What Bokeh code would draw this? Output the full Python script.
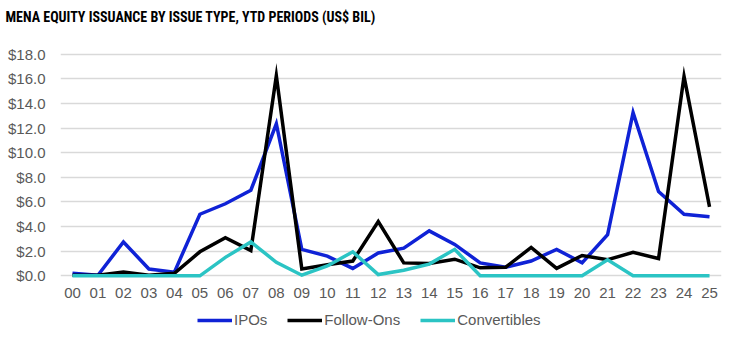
from bokeh.plotting import figure
from bokeh.layouts import column
from bokeh.models import Range1d, FixedTicker, Legend, LegendItem, NumeralTickFormatter
from bokeh.embed import file_html
from bokeh.resources import INLINE

title_text = "MENA EQUITY ISSUANCE BY ISSUE TYPE, YTD PERIODS (US$ BIL)"
years = ["00", "01", "02", "03", "04", "05", "06", "07", "08", "09", "10", "11", "12",
         "13", "14", "15", "16", "17", "18", "19", "20", "21", "22", "23", "24", "25"]
ipos = [0.2, 0.05, 2.75, 0.55, 0.3, 5.0, 5.85, 6.95, 12.35, 2.15, 1.6, 0.6, 1.85,
        2.25, 3.65, 2.55, 1.05, 0.7, 1.2, 2.15, 1.05, 3.35, 13.25, 6.85, 5.0, 4.8]
follow_ons = [0.05, 0.05, 0.3, 0.05, 0.2, 1.95, 3.1, 2.05, 16.25, 0.55, 0.9, 1.2, 4.4,
              1.05, 1.0, 1.35, 0.65, 0.7, 2.3, 0.6, 1.65, 1.3, 1.9, 1.4, 16.2, 5.6]
convertibles = [0.0, 0.0, 0.0, 0.0, 0.0, 0.0, 1.5, 2.75, 1.1, 0.05, 0.8, 1.95, 0.1,
                0.45, 0.95, 2.15, 0.0, 0.0, 0.0, 0.0, 0.0, 1.3, 0.0, 0.0, 0.0, 0.0]
y_ticks = [0, 2, 4, 6, 8, 10, 12, 14, 16, 18]
series_names = ["IPOs", "Follow-Ons", "Convertibles"]
series_colors = ["#0F22D6", "#000000", "#2BC4C4"]

xs = list(range(len(years)))


def bare(fig):
    fig.outline_line_color = None
    fig.background_fill_color = "white"
    fig.border_fill_color = "white"
    fig.xgrid.grid_line_color = None
    fig.ygrid.grid_line_color = None


def strip(h):
    return figure(width=745, height=h, output_backend="svg", toolbar_location=None,
                  x_axis_type=None, y_axis_type=None, x_range=Range1d(0, 1), y_range=Range1d(0, 1),
                  min_border=0, min_border_left=0, min_border_right=0,
                  min_border_top=0, min_border_bottom=0)


# ---- header strip carrying the title ----
header = strip(40)
bare(header)
header.title.text = title_text
header.title.text_font = "Roboto Condensed"
header.title.text_font_size = "14px"
header.title.text_font_style = "bold"
header.title.text_color = "#000000"
header.title.align = "left"
header.title.vertical_align = "top"
header.title.offset = -55
header.title.standoff = 17

# ---- main chart ----
p = figure(width=745, height=266, output_backend="svg", toolbar_location=None,
           x_range=Range1d(-0.47, 25.47), y_range=Range1d(-0.3, 18.3),
           min_border_left=60, min_border_right=24, min_border_top=10, min_border_bottom=27)
p.outline_line_color = None
p.background_fill_color = "white"
p.border_fill_color = "white"
p.xgrid.grid_line_color = None
p.ygrid.grid_line_color = "#D9D9D9"
p.ygrid.grid_line_width = 1.5

p.yaxis.ticker = FixedTicker(ticks=y_ticks)
p.yaxis.formatter = NumeralTickFormatter(format="$0.0")
p.xaxis.ticker = FixedTicker(ticks=xs)
p.xaxis.major_label_overrides = {i: y for i, y in enumerate(years)}

for ax in (p.xaxis[0], p.yaxis[0]):
    ax.axis_line_color = None
    ax.major_tick_line_color = None
    ax.minor_tick_line_color = None
    ax.major_tick_out = 0
    ax.major_tick_in = 0
    ax.major_label_text_font = "Liberation Sans"
    ax.major_label_text_font_size = "15px"
    ax.major_label_text_color = "#595959"
p.yaxis.major_label_standoff = 15
p.xaxis.major_label_standoff = 8

for vals, col in zip([ipos, follow_ons, convertibles], series_colors):
    p.line(xs, vals, line_color=col, line_width=3.5, line_join="miter")

# ---- legend strip (its frame is aligned with the chart frame, starting at x=60) ----
leg = strip(31)
bare(leg)
# swatch renderers kept outside the visible range; only their legend glyphs show
leg_renderers = [leg.line([0, 1], [5, 5], line_color=c, line_width=3.5) for c in series_colors]
legend = Legend(items=[LegendItem(label=n, renderers=[r]) for n, r in zip(series_names, leg_renderers)],
                orientation="horizontal", location=(137, 9),
                border_line_color=None, background_fill_alpha=0,
                label_text_font="Liberation Sans", label_text_font_size="15px",
                label_text_color="#595959", glyph_width=35, glyph_height=16, label_height=16,
                label_standoff=2, spacing=20, padding=0, margin=0)
leg.add_layout(legend, "center")

layout = column(header, p, leg, spacing=0)
open("out.html", "w").write(file_html(layout, INLINE))
